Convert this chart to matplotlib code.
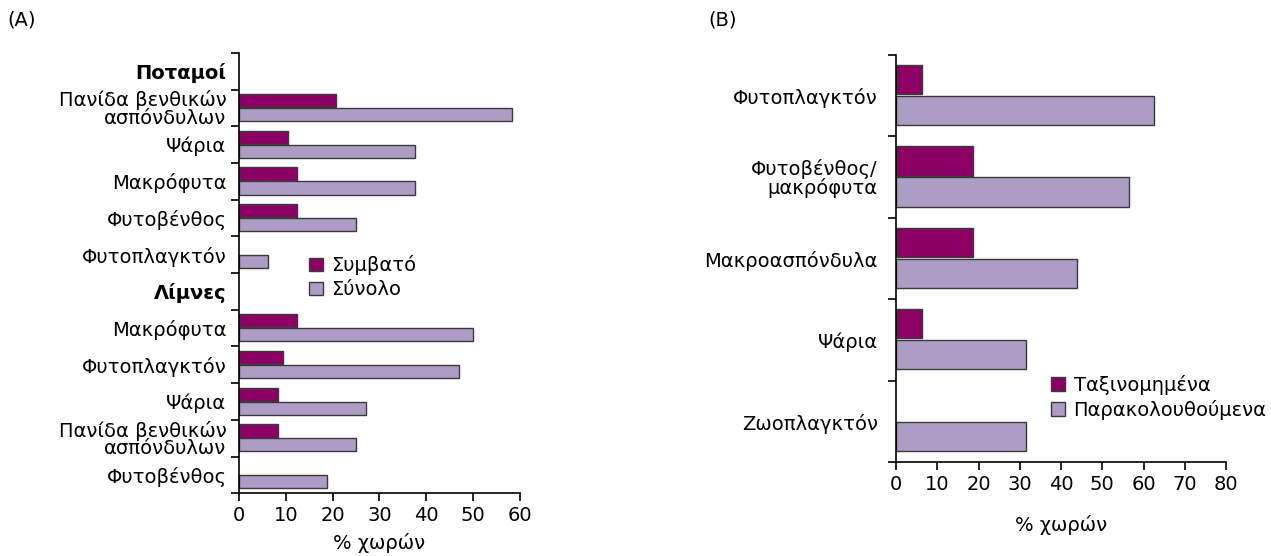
import matplotlib.pyplot as plt
from matplotlib.patches import Patch
import numpy as np

# panel A: rivers / lakes, % of countries
rivers = ["Πανίδα βενθικών\nασπόνδυλων", "Ψάρια", "Μακρόφυτα", "Φυτοβένθος", "Φυτοπλαγκτόν"]
rivers_compat = [20.8, 10.5, 12.5, 12.5, 0]
rivers_total = [58.4, 37.6, 37.6, 25.1, 6.3]

lakes = ["Μακρόφυτα", "Φυτοπλαγκτόν", "Ψάρια", "Πανίδα βενθικών\nασπόνδυλων", "Φυτοβένθος"]
lakes_compat = [12.5, 9.5, 8.4, 8.4, 0]
lakes_total = [50.1, 47.1, 27.2, 25.1, 18.9]

# panel B
b_cats = ["Φυτοπλαγκτόν", "Φυτοβένθος/\nμακρόφυτα", "Μακροασπόνδυλα", "Ψάρια", "Ζωοπλαγκτόν"]
b_classified = [6.3, 18.7, 18.7, 6.3, 0]
b_monitored = [62.6, 56.4, 43.8, 31.4, 31.4]

dark = "#8c0066"
light = "#ad9cc4"
edge = "#3a3a3a"
fs = 14

plt.rcParams['font.family'] = ['DejaVu Sans']

fig = plt.figure(figsize=(12.71, 5.56), dpi=100)


def draw(ax, labels, first, second, xmax, bold_rows=()):
    n = len(labels)
    y = np.arange(n)
    b1 = ax.barh(y - 0.2, first, height=0.36, color=dark, edgecolor=edge, linewidth=1)
    b2 = ax.barh(y + 0.18, second, height=0.36, color=light, edgecolor=edge, linewidth=1)
    # empty bars: nothing drawn
    for p in list(b1) + list(b2):
        if p.get_width() == 0:
            p.set_visible(False)
    ax.set_ylim(n - 0.5, -0.5)
    ax.set_xlim(0, xmax)
    ax.set_xticks(np.arange(0, xmax + 1, 10))
    ax.set_yticks(np.arange(-0.5, n, 1))
    ax.set_yticklabels([])
    ax.set_yticks(y, minor=True)
    ax.set_yticklabels(labels, minor=True, fontsize=fs, linespacing=0.9)
    ax.tick_params(axis='y', which='minor', length=0, pad=9)
    ax.tick_params(axis='y', which='major', length=6, width=1.2)
    ax.tick_params(axis='x', length=6, width=1.2, labelsize=fs, pad=3)
    for s in ['top', 'right']:
        ax.spines[s].set_visible(False)
    for s in ['left', 'bottom']:
        ax.spines[s].set_linewidth(1.2)
    for i, t in enumerate(ax.get_yticklabels(minor=True)):
        if i in bold_rows:
            t.set_fontweight('bold')
    ax.set_xlabel("% χωρών", fontsize=fs)


def legend(ax, names, anchor):
    handles = [Patch(facecolor=dark, edgecolor=edge, label=names[0]),
               Patch(facecolor=light, edgecolor=edge, label=names[1])]
    ax.legend(handles=handles, loc='upper left', bbox_to_anchor=anchor,
              frameon=False, fontsize=fs, handlelength=0.7, handleheight=0.7,
              handletextpad=0.45, labelspacing=0.25, borderpad=0, borderaxespad=0)


# panel A
labels_a = ["Ποταμοί"] + rivers + ["Λίμνες"] + lakes
compat_a = [0] + rivers_compat + [0] + lakes_compat
total_a = [0] + rivers_total + [0] + lakes_total

ax1 = fig.add_axes([0.188, 0.1127, 0.221, 0.7923])
draw(ax1, labels_a, compat_a, total_a, 60, bold_rows=(0, 6))
ax1.xaxis.labelpad = 6
legend(ax1, ["Συμβατό", "Σύνολο"], (0.25, 0.54))

# panel B
ax2 = fig.add_axes([0.705, 0.1685, 0.2597, 0.7326])
draw(ax2, b_cats, b_classified, b_monitored, 80)
ax2.tick_params(axis='y', which='minor', pad=13)
ax2.xaxis.labelpad = 15
legend(ax2, ["Ταξινομημένα", "Παρακολουθούμενα"], (0.47, 0.215))

fig.text(0.006, 0.955, "(A)", fontsize=fs)
fig.text(0.557, 0.955, "(B)", fontsize=fs)

fig.savefig("out.png", dpi=100)
